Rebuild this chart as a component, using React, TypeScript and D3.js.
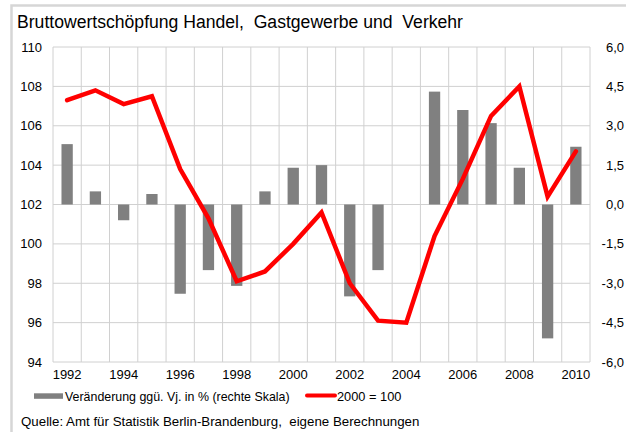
import React from "react";
import * as d3 from "d3";

const title = "Bruttowertschöpfung Handel,  Gastgewerbe und  Verkehr";
const years = [1992,1993,1994,1995,1996,1997,1998,1999,2000,2001,2002,2003,2004,2005,2006,2007,2008,2009,2010];
const changePct = [2.3,0.5,-0.6,0.4,-3.4,-2.5,-3.1,0.5,1.4,1.5,-3.5,-2.5,0.0,4.3,3.6,3.1,1.4,-5.1,2.2];
const index2000 = [107.3,107.8,107.1,107.5,103.8,101.3,98.1,98.6,100.0,101.6,98.0,96.1,96.0,100.4,103.3,106.5,108.0,102.4,104.7];
const leftTicks = [94,96,98,100,102,104,106,108,110];
const rightTicks = [-6,-4.5,-3,-1.5,0,1.5,3,4.5,6];
const barLegend = "Veränderung ggü. Vj. in % (rechte Skala)";
const lineLegend = "2000 = 100";
const source = "Quelle: Amt für Statistik Berlin-Brandenburg,  eigene Berechnungen";

const W = 626, H = 432;
const L = 53, R = 590, T = 47, B = 362;
const font = "'Liberation Sans', Arial, sans-serif";

export default function App() {
  const x = d3.scaleBand<number>().domain(years).range([L, R]).padding(0);
  const yL = d3.scaleLinear().domain([94, 110]).range([B, T]);
  const yR = d3.scaleLinear().domain([-6, 6]).range([B, T]);
  const bw = x.bandwidth() * 0.4;
  const line = d3.line<number>()
    .x((_, i) => (x(years[i]) as number) + x.bandwidth() / 2)
    .y((d) => yL(d));
  const fmt = (v: number) => v.toFixed(1).replace(".", ",");
  const bounds = years.map((y) => x(y) as number).concat([R]);

  return (
    <svg width={W} height={H} style={{ position: "absolute", left: 0, top: 0, whiteSpace: "pre" }} fontFamily={font}>
      <rect x={0} y={0} width={W} height={H} fill="#fff" />
      <rect x={11.5} y={5.5} width={W + 20} height={H + 20} fill="none" stroke="#d6d6d6" strokeWidth={2.5} />
      <text x={17} y={28} fontSize={17.6} fill="#000" style={{ whiteSpace: "pre" }}>{title}</text>
      {/* grid */}
      {leftTicks.map((t) => (
        <line key={"h" + t} x1={L} x2={R} y1={yL(t)} y2={yL(t)} stroke="#d0d0d0" strokeWidth={1} />
      ))}
      {bounds.map((bx, i) => (
        <line key={"v" + i} x1={bx} x2={bx} y1={T} y2={B} stroke="#d0d0d0" strokeWidth={1} />
      ))}
      {/* bars */}
      {changePct.map((v, i) => {
        const cx = (x(years[i]) as number) + x.bandwidth() / 2;
        const y0 = yR(0), y1 = yR(v);
        return (
          <rect key={"b" + i} x={cx - bw / 2} y={Math.min(y0, y1)} width={bw} height={Math.abs(y1 - y0)} fill="#808080" />
        );
      })}
      {/* line */}
      <path d={line(index2000) || ""} fill="none" stroke="#ff0000" strokeWidth={4.5} strokeLinejoin="miter" strokeLinecap="round" />
      {/* left ticks */}
      {leftTicks.map((t) => (
        <text key={"lt" + t} x={42} y={yL(t)} dy="0.35em" textAnchor="end" fontSize={13}>{t}</text>
      ))}
      {/* right ticks */}
      {rightTicks.map((t) => (
        <text key={"rt" + t} x={624} y={yR(t)} dy="0.35em" textAnchor="end" fontSize={13}>{fmt(t)}</text>
      ))}
      {/* x labels */}
      {years.filter((_, i) => i % 2 === 0).map((y) => (
        <text key={"x" + y} x={(x(y) as number) + x.bandwidth() / 2} y={379} textAnchor="middle" fontSize={13}>{y}</text>
      ))}
      {/* legend */}
      <rect x={34} y={393.3} width={29} height={5.5} fill="#808080" />
      <text x={65} y={400.5} fontSize={12.4}>{barLegend}</text>
      <line x1={307} x2={335} y1={395.5} y2={395.5} stroke="#ff0000" strokeWidth={4} strokeLinecap="round" />
      <text x={337} y={400.5} fontSize={12.8}>{lineLegend}</text>
      <text x={21} y={426} fontSize={13.3} style={{ whiteSpace: "pre" }}>{source}</text>
    </svg>
  );
}
